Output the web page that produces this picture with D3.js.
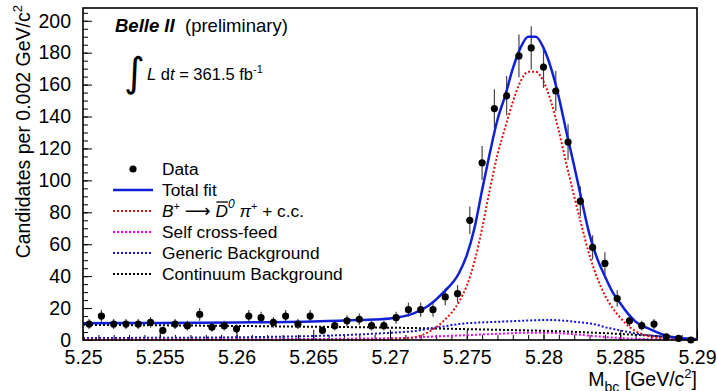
<!DOCTYPE html>
<html>
<head>
<meta charset="utf-8">
<script src="https://cdn.jsdelivr.net/npm/d3@7"></script>
<style>
  body { margin: 0; background: #fff; }
  svg { display: block; font-family: "Liberation Sans", Arial, sans-serif; }
</style>
</head>
<body>
<div id="chart"></div>
<script>
// bin centres of the M_bc histogram (GeV/c^2) and counts per bin
const binCenters = [5.2504, 5.2512, 5.2520, 5.2528, 5.2536, 5.2544, 5.2552, 5.2560, 5.2568, 5.2576,
  5.2584, 5.2592, 5.2600, 5.2608, 5.2616, 5.2624, 5.2632, 5.2640, 5.2648, 5.2656,
  5.2664, 5.2672, 5.2680, 5.2688, 5.2696, 5.2704, 5.2712, 5.2720, 5.2728, 5.2736,
  5.2744, 5.2752, 5.2760, 5.2768, 5.2776, 5.2784, 5.2792, 5.2800, 5.2808, 5.2816,
  5.2824, 5.2832, 5.2840, 5.2848, 5.2856, 5.2864, 5.2872, 5.2880, 5.2888, 5.2896];
const counts = [10, 15, 10, 10, 10, 11, 6, 10, 9, 16,
  8, 9, 7, 15, 14, 11, 15, 10, 15, 6,
  9, 12, 13, 9, 9, 14, 19, 19, 19, 27,
  29, 75, 111, 145, 153, 178, 183, 171, 156, 124,
  87, 58, 48, 26, 12, 9, 10, 2, 1, 0];

// fit components read at these masses
const fitMass = [5.25, 5.255, 5.26, 5.265, 5.268, 5.27, 5.2715, 5.2725, 5.2735, 5.2745,
  5.275, 5.2755, 5.276, 5.2765, 5.277, 5.2775, 5.278, 5.2785, 5.279, 5.2795,
  5.28, 5.2805, 5.281, 5.2815, 5.282, 5.2825, 5.283, 5.2835, 5.284, 5.2845,
  5.285, 5.2855, 5.286, 5.287, 5.288, 5.289, 5.29];
const totalFit = [10.5, 10.7, 11, 11.6, 12.5, 13.5, 16.5, 21.5, 30, 42,
  53, 70, 94, 117, 138, 153, 170, 183, 190, 190,
  183, 170, 152, 130, 109, 87, 66, 51, 40, 30,
  23, 16.5, 11.5, 6.5, 2.7, 1.1, 0.5];
const signal = [0, 0, 0, 0.05, 0.1, 0.3, 1.5, 5, 12, 24,
  34, 49, 70, 94, 116, 133, 149, 162, 168, 168,
  162, 149, 131, 110, 90, 71, 53, 39, 28, 20,
  14, 9, 5.5, 2.2, 0.9, 0.4, 0.2];
const selfCrossFeed = [0.3, 0.4, 0.5, 0.6, 0.9, 1.1, 1.5, 2, 2.4, 2.8,
  3, 3.2, 3.5, 3.7, 3.9, 4.1, 4.3, 4.5, 4.5, 4.6,
  4.6, 4.5, 4.3, 4.0, 3.6, 3.2, 2.7, 2.3, 1.9, 1.5,
  1.2, 0.9, 0.7, 0.5, 0.3, 0.2, 0.1];
const genericBkg = [1.2, 1.4, 1.7, 2.5, 3.5, 4.5, 5.5, 7, 8.5, 10,
  10.5, 10.8, 11, 11.2, 11.4, 11.6, 11.8, 12, 12.2, 12.4,
  12.5, 12.5, 12.3, 12, 11.4, 11, 10.4, 9.5, 8, 7,
  6, 5, 4, 2.8, 2, 1.2, 0.6];
const continuumBkg = [9.5, 9.2, 8.8, 8.3, 8, 7.7, 7.5, 7.3, 7.1, 6.9,
  6.8, 6.7, 6.6, 6.5, 6.4, 6.3, 6.2, 6.1, 6.0, 5.9,
  5.8, 5.6, 5.5, 5.3, 5.1, 4.9, 4.7, 4.5, 4.3, 4.0,
  3.8, 3.5, 3.2, 2.7, 2.0, 1.2, 0];

const xTicks = [5.25, 5.255, 5.26, 5.265, 5.27, 5.275, 5.28, 5.285, 5.29];
const xTickLabels = ['5.25', '5.255', '5.26', '5.265', '5.27', '5.275', '5.28', '5.285', '5.29'];
const yTicks = [0, 20, 40, 60, 80, 100, 120, 140, 160, 180, 200];

const width = 717, height = 391;
const frame = {left: 83, right: 697, top: 8, bottom: 340};

const svg = d3.select('#chart').append('svg')
  .attr('width', width)
  .attr('height', height);

const x = d3.scaleLinear().domain([5.25, 5.29]).range([frame.left, frame.right]);
const y = d3.scaleLinear().domain([0, 208]).range([frame.bottom, frame.top]);

// minor ticks (ROOT style, pointing inwards)
const xMinor = d3.range(5.25, 5.2901, 0.001);
const yMinor = d3.range(0, 206, 5);

svg.append('g')
  .attr('transform', `translate(0,${frame.bottom})`)
  .call(d3.axisBottom(x).tickValues(xMinor).tickSize(-5).tickFormat(''))
  .call(g => g.select('.domain').remove());
svg.append('g')
  .attr('transform', `translate(${frame.left},0)`)
  .call(d3.axisLeft(y).tickValues(yMinor).tickSize(-5).tickFormat(''))
  .call(g => g.select('.domain').remove());

const xAxis = svg.append('g')
  .attr('transform', `translate(0,${frame.bottom})`)
  .call(d3.axisBottom(x).tickValues(xTicks).tickSize(-10).tickPadding(10)
    .tickFormat((d, i) => xTickLabels[i]));
xAxis.select('.domain').remove();
xAxis.selectAll('text').attr('font-size', 19.5).attr('fill', '#000').attr('font-family', 'Liberation Sans');

const yAxis = svg.append('g')
  .attr('transform', `translate(${frame.left},0)`)
  .call(d3.axisLeft(y).tickValues(yTicks).tickSize(-9).tickPadding(12));
yAxis.select('.domain').remove();
yAxis.selectAll('text').attr('font-size', 19.5).attr('fill', '#000').attr('font-family', 'Liberation Sans');

svg.selectAll('.tick line').attr('stroke', '#000');

// curves
const fitPoints = (vals) => fitMass.map((m, i) => [m, vals[i]]);
const line = d3.line()
  .x(d => x(d[0]))
  .y(d => y(d[1]))
  .curve(d3.curveMonotoneX);

const plot = svg.append('g');
const components = [
  {vals: continuumBkg, color: '#000', width: 2, dash: '2,2'},
  {vals: genericBkg, color: '#1010e0', width: 2, dash: '2,2'},
  {vals: selfCrossFeed, color: '#f000f0', width: 2, dash: '2,2'},
  {vals: signal, color: '#e01010', width: 2, dash: '2,2'}
];
components.forEach(c => {
  plot.append('path')
    .datum(fitPoints(c.vals))
    .attr('d', line)
    .attr('fill', 'none')
    .attr('stroke', c.color)
    .attr('stroke-width', c.width)
    .attr('stroke-dasharray', c.dash);
});

// data points with poisson error bars
const data = binCenters.map((m, i) => ({m: m, n: counts[i]}));
plot.selectAll('.err')
  .data(data.filter(d => d.n > 0))
  .enter().append('line')
  .attr('class', 'err')
  .attr('x1', d => x(d.m))
  .attr('x2', d => x(d.m))
  .attr('y1', d => y(d.n + Math.sqrt(d.n)))
  .attr('y2', d => y(Math.max(0, d.n - Math.sqrt(d.n))))
  .attr('stroke', '#444')
  .attr('stroke-width', 1.2);

plot.append('path')
  .datum(fitPoints(totalFit))
  .attr('d', line)
  .attr('fill', 'none')
  .attr('stroke', '#1020d8')
  .attr('stroke-width', 2.5);

plot.selectAll('.pt')
  .data(data)
  .enter().append('circle')
  .attr('class', 'pt')
  .attr('cx', d => x(d.m))
  .attr('cy', d => y(d.n))
  .attr('r', 3.6)
  .attr('fill', '#000');

// frame
svg.append('rect')
  .attr('x', frame.left)
  .attr('y', frame.top)
  .attr('width', frame.right - frame.left)
  .attr('height', frame.bottom - frame.top)
  .attr('fill', 'none')
  .attr('stroke', '#000')
  .attr('stroke-width', 1.6);

// axis titles
const yTitle = svg.append('text')
  .attr('transform', 'translate(30,5) rotate(-90)')
  .attr('text-anchor', 'end')
  .attr('font-size', 19.5);
yTitle.append('tspan').text('Candidates per 0.002 GeV/c');
yTitle.append('tspan').attr('font-size', 13).attr('dy', -8).text('2');

const xTitle = svg.append('text')
  .attr('x', frame.right)
  .attr('y', 386)
  .attr('text-anchor', 'end')
  .attr('font-size', 19.5);
xTitle.append('tspan').text('M');
xTitle.append('tspan').attr('font-size', 14).attr('dy', 6).text('bc');
xTitle.append('tspan').attr('dy', -6).text(' [GeV/c');
xTitle.append('tspan').attr('font-size', 13).attr('dy', -8).text('2');
xTitle.append('tspan').attr('dy', 8).text(']');

// experiment label
const label = svg.append('text').attr('x', 115).attr('y', 32).attr('font-size', 18.5);
label.append('tspan').attr('font-weight', 'bold').attr('font-style', 'italic').text('Belle II');
label.append('tspan').attr('x', 185).text('(preliminary)');

svg.append('text')
  .attr('x', 124)
  .attr('y', 86)
  .attr('font-size', 40)
  .attr('font-family', 'DejaVu Sans')
  .text('\u222B');
const lumi = svg.append('text').attr('x', 147).attr('y', 80).attr('font-size', 16.5);
lumi.append('tspan').attr('font-style', 'italic').text('L');
lumi.append('tspan').text(' d');
lumi.append('tspan').attr('font-style', 'italic').text('t');
lumi.append('tspan').text(' = 361.5 fb');
lumi.append('tspan').attr('font-size', 11).attr('dy', -7).text('-1');

// legend
const legendRows = [169, 190, 211, 232, 253, 274];
const legend = svg.append('g');
legend.append('circle').attr('cx', 133).attr('cy', legendRows[0]).attr('r', 3.6).attr('fill', '#000');
const legendLines = [
  {color: '#1020d8', dash: null, w: 2.5},
  {color: '#e01010', dash: '2,2', w: 2},
  {color: '#f000f0', dash: '2,2', w: 2},
  {color: '#1010e0', dash: '2,2', w: 2},
  {color: '#000', dash: '2,2', w: 2}
];
legendLines.forEach((l, i) => {
  legend.append('line')
    .attr('x1', 113).attr('x2', 153)
    .attr('y1', legendRows[i + 1]).attr('y2', legendRows[i + 1])
    .attr('stroke', l.color)
    .attr('stroke-width', l.w)
    .attr('stroke-dasharray', l.dash);
});
const legendText = ['Data', 'Total fit', null, 'Self cross-feed', 'Generic Background', 'Continuum Background'];
legendText.forEach((t, i) => {
  if (!t) return;
  legend.append('text')
    .attr('x', 162).attr('y', legendRows[i] + 6)
    .attr('font-size', 17.3)
    .text(t);
});
const sig = legend.append('text').attr('x', 162).attr('y', legendRows[2] + 6).attr('font-size', 17.3);
sig.append('tspan').attr('font-style', 'italic').text('B');
sig.append('tspan').attr('font-size', 11).attr('dy', -7).text('+');
sig.append('tspan').attr('dy', 7).text(' ');
sig.append('tspan').attr('font-family', 'DejaVu Sans').attr('font-size', 18).text('\u27F6');
sig.append('tspan').text(' ');
const dBar = sig.append('tspan').attr('font-style', 'italic').text('D');
sig.append('tspan').attr('font-size', 12).attr('font-style', 'italic').attr('dy', -9).text('0');
sig.append('tspan').attr('dy', 9).attr('font-style', 'italic').text(' \u03C0');
sig.append('tspan').attr('font-size', 11).attr('dy', -7).text('+');
sig.append('tspan').attr('dy', 7).text(' + c.c.');
const bb = dBar.node().getBBox();
legend.append('line')
  .attr('x1', bb.x + 1).attr('x2', bb.x + bb.width)
  .attr('y1', bb.y + 1).attr('y2', bb.y + 1)
  .attr('stroke', '#000').attr('stroke-width', 1.3);
</script>
</body>
</html>
